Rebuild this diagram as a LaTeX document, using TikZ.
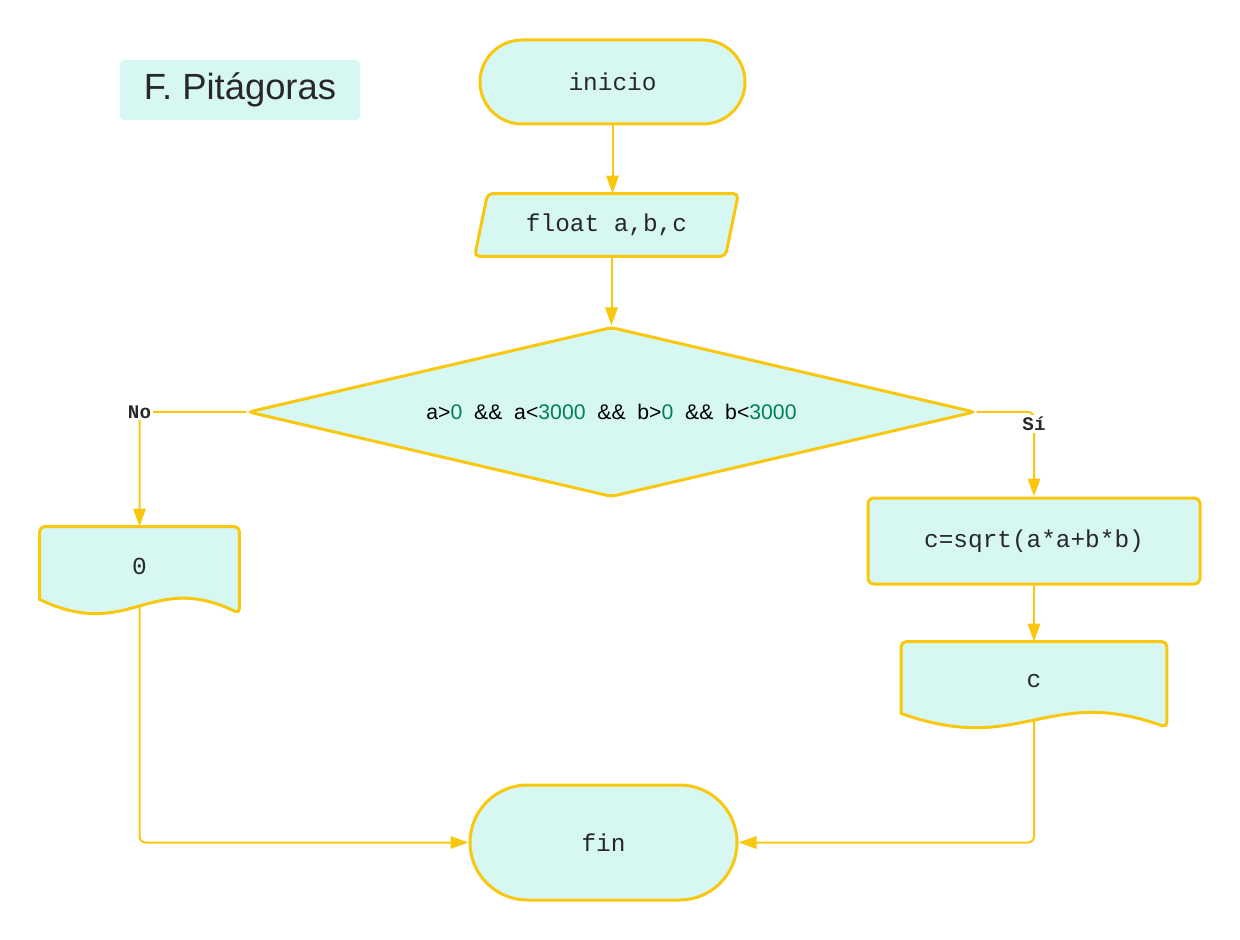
\documentclass[tikz,border=0pt]{standalone}
\usepackage{fontspec}
\setmainfont{Liberation Sans}
\setmonofont{Liberation Mono}
\usetikzlibrary{shapes.misc,shapes.geometric,arrows.meta,calc,backgrounds}
\definecolor{flowline}{RGB}{249,200,14}
\definecolor{flowfill}{RGB}{215,248,242}
\definecolor{flowtext}{RGB}{40,40,40}
\definecolor{numgreen}{RGB}{0,128,85}
\tikzset{
  shapeline/.style={draw=flowline,fill=flowfill,line width=1.5pt},
  flowbox/.style={shapeline,text=flowtext,font=\ttfamily\fontsize{12.2}{14}\selectfont,inner sep=0pt},
  terminal/.style={flowbox,rounded rectangle},
  decision/.style={flowbox,diamond,aspect=4.28,rounded corners=2pt,text=black,
    font=\fontsize{10.6}{12}\selectfont},
  process/.style={flowbox,rectangle,rounded corners=3pt},
  plainbox/.style={text=flowtext,font=\ttfamily\fontsize{12.2}{14}\selectfont,inner sep=0pt},
  titlebox/.style={fill=flowfill,rounded corners=2pt,text=flowtext,minimum width=120pt,
    minimum height=30pt,font=\fontsize{18.2}{20}\selectfont},
  flowarrow/.style={draw=flowline,line width=1pt,-{Triangle[length=9pt,width=6.2pt]},rounded corners=3pt},
  branch/.style={fill=white,text=flowtext,font=\ttfamily\bfseries\fontsize{9.6}{11}\selectfont,inner sep=1pt}
}
% document symbol drawn behind a named node
\newcommand{\docshape}[1]{%
  \begin{scope}[on background layer]
    \filldraw[shapeline] ($(#1.south west)+(0,-7)$) {[rounded corners=2.5pt] -- (#1.north west)
      -- (#1.north east) -- ($(#1.south east)+(0,7)$)}
      .. controls ($(#1.south west)!0.55!(#1.south east)+(0,-36)$)
      and ($(#1.south west)!0.45!(#1.south east)+(0,36)$) .. ($(#1.south west)+(0,-7)$) -- cycle;
  \end{scope}}
% input/output symbol drawn behind a named node
\newcommand{\ioshape}[1]{%
  \begin{scope}[on background layer]
    \filldraw[shapeline,rounded corners=2.5pt] (#1.south west) -- ($(#1.north west)+(13,0)$)
      -- (#1.north east) -- ($(#1.south east)+(-13,0)$) -- cycle;
  \end{scope}}

\begin{document}
\begin{tikzpicture}[x=0.5pt,y=-0.5pt]
  \useasboundingbox (0,0) rectangle (1240,940);

  % Title
  \node[titlebox] (title) at (240,90) {F. Pitágoras};

  % Blocks
  \node[terminal,minimum width=132.5pt,minimum height=42pt] (start) at (612.5,82) {inicio};
  \node[plainbox,minimum width=131.5pt,minimum height=31pt] (decl) at (606.5,225) {float a,b,c};
  \node[decision,minimum width=363.5pt,minimum height=85pt] (check) at (611.5,412)
    {a>\textcolor{numgreen}{0}\ \ \&\&\ \ a<\textcolor{numgreen}{3000}\ \ \&\&\ \ b>\textcolor{numgreen}{0}\ \ \&\&\ \ b<\textcolor{numgreen}{3000}};
  \node[process,minimum width=166pt,minimum height=43pt] (calc) at (1034,541) {c=sqrt(a*a+b*b)};
  \node[plainbox,minimum width=99.5pt,minimum height=39.5pt] (outzero) at (139.5,566.5) {0};
  \node[plainbox,minimum width=132.5pt,minimum height=39pt] (outc) at (1034,681) {c};
  \node[terminal,minimum width=133.5pt,minimum height=57.5pt] (stop) at (603.5,842.5) {fin};

  % Outlines
  \ioshape{decl}
  \docshape{outzero}
  \docshape{outc}

  % Arrows
  \draw[flowarrow] (start.south) -- (start.south |- decl.north);
  \draw[flowarrow] (check.north |- decl.south) -- (check.north);
  \draw[flowarrow] (check.west) -| (outzero.north);
  \draw[flowarrow] (check.east) -| (calc.north);
  \draw[flowarrow] (calc.south) -- (outc.north);
  \draw[flowarrow] (outc.south) |- (stop.east);
  \draw[flowarrow] (outzero.south) |- (stop.west);

  % Labels
  \node[branch] (nolabel) at (check.west -| outzero.north) {No};
  \node[branch] (silabel) at ($(check.east -| calc.north)+(0,12)$) {Sí};
\end{tikzpicture}
\end{document}
